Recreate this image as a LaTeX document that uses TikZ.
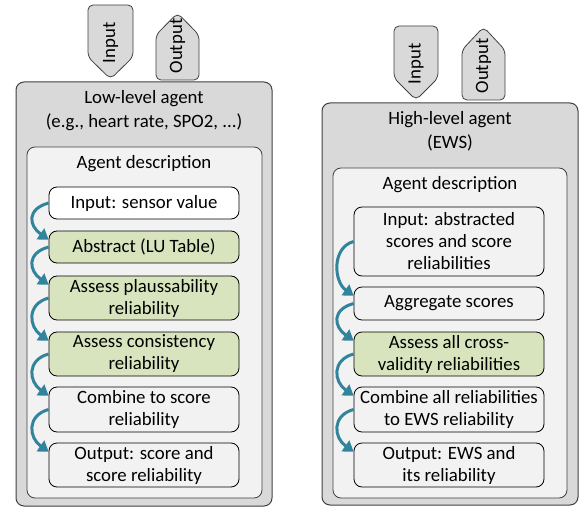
\documentclass[tikz,border=0pt]{standalone}
\usepackage{fontspec}
\setmainfont{Carlito}
\usetikzlibrary{arrows.meta,calc}
\definecolor{outerfill}{HTML}{D9D9D9}
\definecolor{innerfill}{HTML}{F2F2F2}
\definecolor{greenfill}{HTML}{D7E4BD}
\definecolor{edgecol}{HTML}{404040}
\definecolor{teal}{HTML}{31849B}
\tikzset{
  outerbox/.style={draw=edgecol, line width=1pt, fill=outerfill, rounded corners=8pt, inner sep=0pt},
  innerbox/.style={draw=edgecol, line width=0.8pt, fill=innerfill, rounded corners=8pt, inner sep=0pt},
  stepbox/.style={draw=black, line width=0.8pt, fill=innerfill, rounded corners=8pt, minimum width=190pt, inner sep=0pt, align=center, font=\fontsize{18.8}{22}\selectfont},
  whitestep/.style={stepbox, fill=white},
  greenstep/.style={stepbox, fill=greenfill},
  tagshape/.style={draw=edgecol, line width=0.8pt, fill=outerfill, rounded corners=5pt},
  tagtext/.style={rotate=90, font=\fontsize{18.8}{22}\selectfont, inner sep=0pt},
  titletext/.style={align=center, font=\fontsize{18.8}{24}\selectfont, inner sep=0pt},
  arr/.style={draw=teal, line width=3pt, -{Triangle[length=10pt,width=13pt]}}
}
\begin{document}
\begin{tikzpicture}[x=1pt,y=-1pt]
\useasboundingbox (0,0) rectangle (584,508);
% ---------- left agent ----------
\node[outerbox, minimum width=256pt, minimum height=424pt] (Lout) at (144,294) {};
\node[titletext] (Ltitle) at (144,111) {Low-level agent\\(e.g., heart rate, SPO2, ...)};
\node[innerbox, minimum width=235pt, minimum height=351pt] (Lin) at (144.5,322.5) {};
\node[titletext] (Ldesc) at (144,164) {Agent description};
\node[whitestep, minimum height=32pt] (L1) at (144,203) {Input: sensor value};
\node[greenstep, minimum height=32pt] (L2) at (144,247) {Abstract (LU Table)};
\node[greenstep, minimum height=44pt] (L3) at (144,298) {Assess plaussability\\reliability};
\node[greenstep, minimum height=44pt] (L4) at (144,354) {Assess consistency\\reliability};
\node[stepbox, minimum height=45pt] (L5) at (144,409.5) {Combine to score\\reliability};
\node[stepbox, minimum height=44pt] (L6) at (144,465) {Output: score and\\score reliability};
\foreach \a/\b in {L1/L2,L2/L3,L3/L4,L4/L5,L5/L6}{
  \draw[arr] (\a.west) .. controls +(-22,6) and +(-20,-14) .. ($(\b.north west)+(0,9)$);
}
% tags left
\draw[tagshape] (88,5) -- (133,5) -- (133,57) -- (110.5,79) -- (88,57) -- cycle;
\node[tagtext] (LinTag) at (110.5,43) {Input};
\draw[tagshape] (156,80) -- (156,35) -- (177.5,13) -- (199,35) -- (199,80) -- cycle;
\node[tagtext] (LoutTag) at (177.5,46) {Output};
% ---------- right agent ----------
\node[outerbox, minimum width=256pt, minimum height=402pt] (Rout) at (450,304) {};
\node[titletext] (Rtitle) at (450,131.5) {High-level agent\\(EWS)};
\node[innerbox, minimum width=234pt, minimum height=330pt] (Rin) at (450,333) {};
\node[titletext] (Rdesc) at (450,185) {Agent description};
\node[stepbox, minimum height=69pt] (R1) at (449,241.5) {Input: abstracted\\scores and score\\reliabilities};
\node[stepbox, minimum height=33pt] (R2) at (449,303.5) {Aggregate scores};
\node[greenstep, minimum height=44pt] (R3) at (449,354) {Assess all cross-\\validity reliabilities};
\node[stepbox, minimum height=45pt] (R4) at (449,409.5) {Combine all reliabilities\\to EWS reliability};
\node[stepbox, minimum height=44pt] (R5) at (449,465) {Output: EWS and\\its reliability};
\foreach \a/\b in {R1/R2,R2/R3,R3/R4,R4/R5}{
  \draw[arr] (\a.west) .. controls +(-22,6) and +(-20,-14) .. ($(\b.north west)+(0,9)$);
}
% tags right
\draw[tagshape] (394,26) -- (438,26) -- (438,78) -- (416,100) -- (394,78) -- cycle;
\node[tagtext] (RinTag) at (416,64) {Input};
\draw[tagshape] (462,100) -- (462,50) -- (483.5,27) -- (505,50) -- (505,100) -- cycle;
\node[tagtext] (RoutTag) at (483.5,66) {Output};
\end{tikzpicture}
\end{document}
